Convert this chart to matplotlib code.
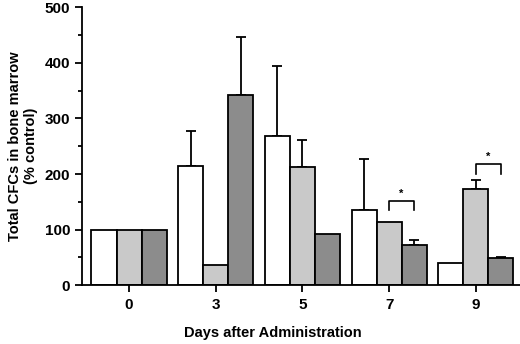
import numpy as np
import matplotlib.pyplot as plt

days = ['0', '3', '5', '7', '9']
white_vals = [100, 215, 268, 136, 40]
white_err = [0, 63, 126, 92, 0]
light_vals = [100, 36, 213, 114, 173]
light_err = [0, 0, 48, 0, 17]
dark_vals = [100, 343, 92, 73, 49]
dark_err = [0, 104, 0, 8, 2]

# significance brackets: (group, top of bracket, bottom of legs)
brackets = [(3, 152, 136), (4, 218, 201)]

plt.rcParams['font.family'] = ['Liberation Sans', 'DejaVu Sans']
plt.rcParams['font.weight'] = 'bold'

fig = plt.figure(figsize=(5.2, 3.44), dpi=100)
ax = fig.add_axes([0.1577, 0.1707, 0.8423, 0.8081])

x = np.arange(len(days))
w = 0.289
series = [(white_vals, white_err, 'white'),
          (light_vals, light_err, '#c9c9c9'),
          (dark_vals, dark_err, '#8c8c8c')]
for k, (vals, err, col) in enumerate(series):
    pos = x + (k - 1) * w
    ax.bar(pos, vals, w, color=col, edgecolor='black', linewidth=1.3, zorder=2)
    errs = np.array(err, dtype=float)
    mask = errs > 0
    ax.errorbar(pos[mask], np.array(vals)[mask], yerr=[np.zeros(mask.sum()), errs[mask]],
                fmt='none', ecolor='black', elinewidth=1.3, capsize=3.5, capthick=1.3, zorder=1)

for g, top, bot in brackets:
    x0, x1 = g, g + w
    ax.plot([x0, x0, x1, x1], [bot, top, top, bot], color='black', lw=1.2)
    ax.text((x0 + x1) / 2, top + 4, '*', ha='center', va='bottom', fontsize=8)

ax.set_xlim(-0.543, 4.51)
ax.set_ylim(0, 500)
ax.set_xticks(x)
ax.set_xticklabels(days, fontsize=11, fontweight='bold')
ax.set_yticks(np.arange(0, 501, 100))
ax.set_yticks(np.arange(50, 500, 100), minor=True)
ax.tick_params(axis='y', labelsize=11, width=1.3, length=5)
ax.tick_params(axis='y', which='minor', width=1.3, length=3)
ax.tick_params(axis='x', width=1.3, length=5, pad=4)
for s in ['top', 'right']:
    ax.spines[s].set_visible(False)
for s in ['left', 'bottom']:
    ax.spines[s].set_linewidth(1.3)

ax.set_ylabel('Total CFCs in bone marrow\n(% control)', fontsize=10.5, fontweight='bold', labelpad=5)
fig.text(0.525, 0.012, 'Days after Administration', ha='center', va='bottom', fontsize=10.5, fontweight='bold')

fig.savefig('out.png', dpi=100)
